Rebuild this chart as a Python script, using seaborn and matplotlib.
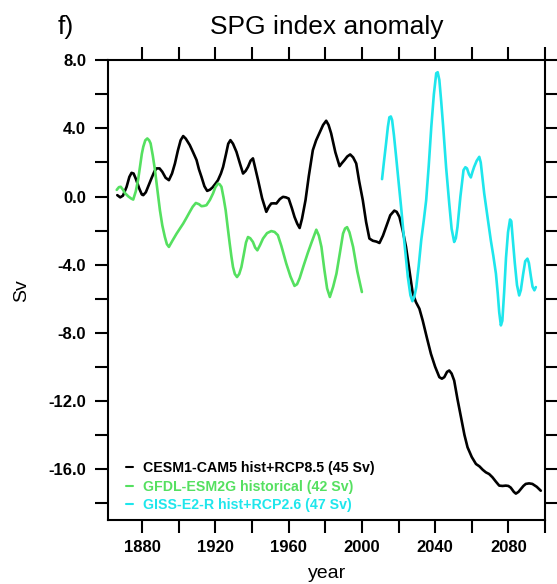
import numpy as np
import pandas as pd
import matplotlib
matplotlib.use("Agg")
import matplotlib.pyplot as plt
from matplotlib.ticker import MultipleLocator, FuncFormatter
import seaborn as sns

# ---- series (year, Sv anomaly) ----
cesm_year = [1866.4, 1868.0, 1869.5, 1871.5, 1873.0, 1874.2, 1875.3, 1876.5, 1878.4, 1879.8,
             1880.6, 1882.0, 1883.5, 1885.2, 1886.8, 1887.9, 1889.5, 1891.0, 1892.8, 1894.6,
             1896.3, 1897.9, 1899.5, 1901.0, 1902.4, 1903.8, 1906.0, 1907.8, 1909.7, 1911.0,
             1912.4, 1914.0, 1915.5, 1917.0, 1918.4, 1920.0, 1921.4, 1923.0, 1924.2, 1925.8,
             1927.0, 1928.2, 1929.6, 1931.5, 1933.5, 1935.1, 1936.5, 1937.8, 1939.2, 1940.5,
             1941.7, 1943.3, 1945.5, 1947.8, 1949.2, 1950.5, 1952.0, 1953.3, 1955.2, 1956.9,
             1958.5, 1960.0, 1961.8, 1963.2, 1964.7, 1966.0, 1967.3, 1969.2, 1971.0, 1973.2,
             1975.0, 1976.9, 1978.8, 1980.5, 1981.8, 1983.2, 1985.5, 1987.8, 1989.0, 1990.5,
             1992.0, 1993.6, 1995.2, 1996.9, 1998.5, 2000.5, 2002.3, 2004.1, 2006.0, 2008.0,
             2009.6, 2011.5, 2013.2, 2015.5, 2017.7, 2019.0, 2020.5, 2022.3, 2024.1, 2026.0,
             2027.7, 2029.5, 2031.4, 2033.2, 2035.5, 2037.7, 2040.0, 2042.3, 2043.7, 2045.0,
             2046.5, 2047.7, 2049.0, 2050.4, 2052.2, 2054.1, 2056.0, 2057.7, 2060.0, 2062.3,
             2064.2, 2066.0, 2067.7, 2069.5, 2071.3, 2073.2, 2075.0, 2076.8, 2078.6, 2080.0,
             2081.3, 2083.0, 2084.1, 2085.5, 2086.8, 2088.2, 2089.5, 2091.3, 2093.1, 2095.5,
             2097.7]
cesm_sv = [0.08, -0.05, 0.05, 0.57, 1.15, 1.39, 1.35, 1.05, 0.47, 0.12,
           0.08, 0.25, 0.65, 1.10, 1.50, 1.65, 1.65, 1.45, 1.10, 0.96,
           1.35, 1.94, 2.70, 3.30, 3.55, 3.40, 3.02, 2.60, 2.14, 1.60,
           1.15, 0.60, 0.33, 0.40, 0.53, 0.75, 0.96, 1.35, 1.74, 2.50,
           3.10, 3.31, 3.10, 2.62, 1.90, 1.35, 1.50, 1.74, 2.10, 2.24,
           1.70, 0.96, -0.10, -0.90, -0.60, -0.41, -0.40, -0.41, -0.15, -0.02,
           -0.05, -0.12, -0.70, -1.20, -1.60, -1.85, -1.30, -0.22, 1.20, 2.72,
           3.30, 3.75, 4.20, 4.45, 4.20, 3.71, 2.60, 1.78, 1.95, 2.14,
           2.35, 2.47, 2.30, 1.94, 0.90, -0.22, -1.50, -2.47, -2.60, -2.65,
           -2.73, -2.30, -1.79, -1.10, -0.83, -0.90, -1.20, -2.00, -2.96, -4.40,
           -5.65, -6.20, -6.59, -7.28, -8.30, -9.24, -10.00, -10.61, -10.70, -10.61,
           -10.30, -10.22, -10.40, -10.81, -11.90, -12.96, -14.00, -14.73, -15.30, -15.71,
           -15.85, -16.05, -16.20, -16.30, -16.49, -16.75, -16.98, -17.00, -16.98, -17.00,
           -17.10, -17.35, -17.45, -17.35, -17.18, -17.00, -16.88, -16.85, -16.88, -17.05,
           -17.28]

gfdl_year = [1866.1, 1867.3, 1868.3, 1869.5, 1870.6, 1872.5, 1874.0, 1875.1, 1876.5, 1877.8,
             1878.8, 1879.8, 1880.6, 1881.7, 1882.8, 1883.8, 1884.6, 1885.8, 1887.0, 1888.3,
             1889.7, 1891.0, 1892.4, 1893.5, 1894.6, 1896.5, 1898.8, 1900.5, 1902.4, 1904.2,
             1906.0, 1907.6, 1909.3, 1911.0, 1912.4, 1913.8, 1915.1, 1917.0, 1918.7, 1920.0,
             1921.4, 1922.3, 1923.3, 1924.5, 1925.6, 1926.7, 1927.8, 1928.7, 1929.6, 1930.6,
             1931.8, 1933.0, 1934.2, 1935.5, 1936.7, 1937.8, 1939.0, 1940.5, 1941.7, 1942.9,
             1944.4, 1946.0, 1948.2, 1950.5, 1952.3, 1954.1, 1956.0, 1958.7, 1961.0, 1963.2,
             1964.6, 1966.0, 1968.2, 1970.5, 1972.5, 1975.1, 1976.5, 1977.9, 1979.5, 1981.0,
             1982.5, 1984.3, 1986.1, 1988.0, 1989.7, 1990.8, 1991.9, 1993.2, 1995.2, 1997.5,
             2000.0]
gfdl_sv = [0.39, 0.55, 0.57, 0.40, 0.20, 0.00, -0.12, -0.18, 0.30, 1.00,
           1.74, 2.50, 2.92, 3.30, 3.41, 3.30, 3.12, 2.40, 1.55, 0.40,
           -0.81, -1.70, -2.38, -2.80, -2.96, -2.60, -2.18, -1.90, -1.59, -1.25,
           -0.90, -0.60, -0.38, -0.45, -0.57, -0.55, -0.51, -0.20, 0.18, 0.55,
           0.76, 0.72, 0.57, -0.10, -0.81, -1.80, -2.76, -3.50, -4.14, -4.55,
           -4.73, -4.55, -4.14, -3.40, -2.70, -2.38, -2.45, -2.67, -3.00, -3.16,
           -2.85, -2.47, -2.15, -2.03, -2.08, -2.27, -2.90, -3.94, -4.70, -5.25,
           -5.15, -4.80, -4.05, -3.30, -2.70, -1.95, -2.30, -2.96, -4.30, -5.40,
           -5.90, -5.30, -4.53, -3.30, -2.18, -1.88, -1.80, -2.10, -2.96, -4.40,
           -5.61]

giss_year = [2011.0, 2012.0, 2013.2, 2014.2, 2015.0, 2015.8, 2016.5, 2017.5, 2018.7, 2020.0,
             2021.4, 2023.2, 2025.1, 2026.5, 2027.6, 2028.6, 2029.7, 2031.0, 2032.4, 2033.8,
             2035.1, 2036.5, 2037.9, 2039.3, 2040.6, 2041.4, 2042.3, 2043.3, 2044.4, 2046.0,
             2047.7, 2049.0, 2050.4, 2051.3, 2052.2, 2053.8, 2055.5, 2056.5, 2057.4, 2058.5,
             2059.5, 2060.4, 2061.3, 2062.7, 2064.1, 2064.9, 2066.8, 2068.6, 2070.4, 2071.8,
             2073.2, 2074.2, 2075.0, 2075.9, 2076.7, 2077.7, 2078.7, 2079.8, 2080.9, 2081.6,
             2082.4, 2083.5, 2084.7, 2085.9, 2086.8, 2088.0, 2089.2, 2090.4, 2091.2, 2092.3,
             2093.2, 2094.2, 2095.0]
giss_sv = [1.02, 2.00, 3.12, 4.10, 4.65, 4.70, 4.49, 3.60, 2.33, 0.90,
           -0.61, -2.70, -4.73, -5.80, -6.15, -5.90, -5.32, -4.10, -2.57, -1.40,
           -0.22, 1.80, 4.09, 6.00, 7.24, 7.30, 6.84, 5.60, 4.09, 1.70,
           -0.41, -1.90, -2.67, -2.45, -1.79, 0.00, 1.55, 1.72, 1.65, 1.30,
           1.12, 1.45, 1.74, 2.10, 2.33, 2.00, 0.18, -1.20, -2.57, -3.50,
           -4.53, -5.70, -6.80, -7.57, -7.30, -5.60, -3.60, -2.10, -1.35, -1.45,
           -2.50, -3.90, -5.20, -5.81, -5.50, -4.60, -3.80, -3.65, -3.90, -4.70,
           -5.30, -5.51, -5.32]

labels = ["CESM1-CAM5 hist+RCP8.5 (45 Sv)",
          "GFDL-ESM2G historical (42 Sv)",
          "GISS-E2-R hist+RCP2.6 (47 Sv)"]
colors = ["#000000", "#55e060", "#1ee6ec"]

df = pd.concat([
    pd.DataFrame({"year": cesm_year, "sv": cesm_sv, "model": labels[0]}),
    pd.DataFrame({"year": gfdl_year, "sv": gfdl_sv, "model": labels[1]}),
    pd.DataFrame({"year": giss_year, "sv": giss_sv, "model": labels[2]}),
], ignore_index=True)

sns.set_theme(style="ticks")
plt.rcParams["font.family"] = ["Liberation Sans", "DejaVu Sans"]
plt.rcParams.update({"text.color": "black", "axes.labelcolor": "black",
                     "xtick.color": "black", "ytick.color": "black"})

W, H = 557, 584
fig = plt.figure(figsize=(W / 100, H / 100), dpi=100)
ax = fig.add_axes([108.3 / W, 1 - 520 / H, 436.7 / W, 459.7 / H])

sns.lineplot(data=df, x="year", y="sv", hue="model", palette=dict(zip(labels, colors)),
             sort=False, estimator=None, linewidth=1.9, ax=ax, legend=True)
for ln in ax.get_lines():
    ln.set_solid_joinstyle("round")
    ln.set_solid_capstyle("round")

ax.set_xlim(1861.5, 2100)
ax.set_ylim(-19, 8)

# ticks: outward on all four sides
ax.xaxis.set_major_locator(MultipleLocator(20))
ax.yaxis.set_major_locator(MultipleLocator(2))
ax.xaxis.set_major_formatter(FuncFormatter(lambda v, p: f"{int(round(v))}" if round(v) % 40 == 0 else ""))
ax.yaxis.set_major_formatter(FuncFormatter(lambda v, p: f"{v:.1f}" if round(v) % 4 == 0 else ""))
ax.tick_params(axis="both", which="major", direction="out", length=9.5, width=1.5,
               top=True, right=True, color="black", labelsize=12)
ax.tick_params(axis="y", pad=6.5)
ax.tick_params(axis="x", pad=5)
for t in ax.get_xticklabels() + ax.get_yticklabels():
    t.set_fontweight("bold")
for s in ax.spines.values():
    s.set_visible(True)
    s.set_linewidth(1.5)
    s.set_color("black")

ax.set_xlabel("year", fontsize=14)
ax.set_ylabel("Sv", fontsize=14)
ax.xaxis.set_label_coords(0.5, (520 - 573) / 459.7)
ax.yaxis.set_label_coords((22 - 108.3) / 436.7, 0.5)
ax.xaxis.label.set_va("center")
ax.yaxis.label.set_va("center")

fig.text(326.5 / W, 1 - 26.6 / H, "SPG index anomaly", ha="center", va="center", fontsize=19)
fig.text(57.8 / W, 1 - 26.6 / H, "f)", ha="left", va="center", fontsize=19)

leg = ax.legend(loc="upper left", bbox_to_anchor=(0.04, 0.128), frameon=False,
                handlelength=0.5, handletextpad=0.75, labelspacing=0.32,
                borderpad=0, borderaxespad=0, labelcolor="linecolor",
                prop={"size": 10.2, "weight": "bold"})
for h in leg.get_lines():
    h.set_linewidth(1.5)

fig.savefig("out.png", dpi=100)
